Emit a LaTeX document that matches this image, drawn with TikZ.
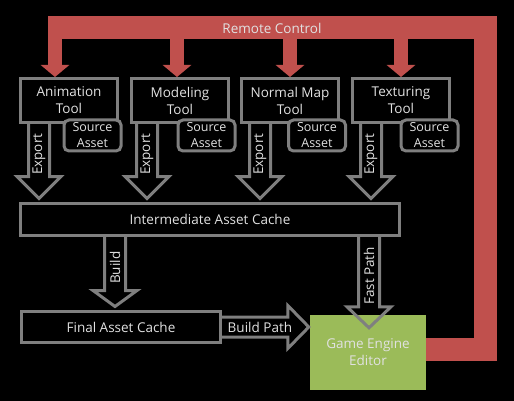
\documentclass[tikz,border=0pt]{standalone}
\usepackage{fontspec}
\setmainfont{Open Sans}
\usepackage{xcolor}
\usepackage{tikz}
\usetikzlibrary{arrows.meta}
\usetikzlibrary{calc}

\definecolor{boxgray}{RGB}{127,127,127}
\definecolor{ctrlred}{RGB}{192,80,77}
\definecolor{editgreen}{RGB}{155,187,89}
\definecolor{txt}{RGB}{225,225,225}

\newcommand{\blockdown}[4]{%
  \draw[blockarrow] let \p1=#1, \p2=#2 in
    (\x1-10.5pt,\y1) -- (\x1-10.5pt,\y2+#3) -- (\x1-22pt,\y2+#3) -- (\x1,\y2)
    -- (\x1+22pt,\y2+#3) -- (\x1+10.5pt,\y2+#3) -- (\x1+10.5pt,\y1)
    node[arrowlabel,rotate=90] at (\x1,{(\y1+\y2+#3)/2-4pt}) {#4};}
\newcommand{\blockright}[4]{%
  \draw[blockarrow] let \p1=#1, \p2=#2 in
    (\x1,\y1+10pt) -- (\x2-#3,\y1+10pt) -- (\x2-#3,\y1+21.5pt) -- (\x2,\y1)
    -- (\x2-#3,\y1-21.5pt) -- (\x2-#3,\y1-10pt) -- (\x1,\y1-10pt)
    node[arrowlabel] at ({(\x1+\x2-#3)/2+5pt},\y1) {#4};}

\begin{document}
\begin{tikzpicture}[x=1pt,y=-1pt,
    tool/.style={draw=boxgray,line width=3pt,fill=black,text=txt,align=center,
      minimum width=97pt,minimum height=44pt,inner sep=0pt,
      font=\fontsize{13.5}{17}\selectfont},
    srcbox/.style={draw=boxgray,line width=3pt,fill=black,text=txt,align=center,
      rounded corners=5pt,minimum width=57pt,minimum height=31pt,inner sep=0pt,
      font=\fontsize{12.5}{16}\selectfont},
    cache/.style={draw=boxgray,line width=3pt,fill=black,text=txt,inner sep=0pt,
      font=\fontsize{13.5}{17}\selectfont},
    editor/.style={fill=editgreen,text=txt,align=center,inner sep=0pt,
      minimum width=116pt,minimum height=75pt,font=\fontsize{13.5}{17}\selectfont},
    blockarrow/.style={draw=boxgray,line width=3pt,line join=miter},
    arrowlabel/.style={text=txt,inner sep=0pt,font=\fontsize{13.5}{17}\selectfont},
    remote/.style={draw=ctrlred,line width=23pt,line join=miter},
    remotetip/.style={draw=ctrlred,line width=14pt,-{Triangle[width=28pt,length=12pt]}}]
  \fill[black] (0,0) rectangle (514,401);

  \node[tool] (anim) at (69,100.5) {Animation\\Tool};
  \node[tool] (model) at (180,100.5) {Modeling\\Tool};
  \node[tool] (normal) at (290,100.5) {Normal Map\\Tool};
  \node[tool] (textur) at (401,100.5) {Texturing\\Tool};

  \node[srcbox] (animsrc) at (92.5,135.5) {Source\\Asset};
  \node[srcbox] (modelsrc) at (206.5,135.5) {Source\\Asset};
  \node[srcbox] (normalsrc) at (317,135.5) {Source\\Asset};
  \node[srcbox] (textursrc) at (429.5,135.5) {Source\\Asset};

  \node[cache,minimum width=379pt,minimum height=32pt] (inter) at (210,219.5) {Intermediate Asset Cache};
  \node[cache,minimum width=199pt,minimum height=31pt] (final) at (121,327) {Final Asset Cache};
  \node[editor] (editor) at (368,352.5) {Game Engine\\Editor};

  \blockdown{([xshift=-30pt]anim.south)}{([yshift=3.5pt]inter.north)}{22pt}{Export}
  \blockdown{([xshift=-33pt]model.south)}{([yshift=3.5pt]inter.north)}{22pt}{Export}
  \blockdown{([xshift=-30pt]normal.south)}{([yshift=3.5pt]inter.north)}{22pt}{Export}
  \blockdown{([xshift=-30pt]textur.south)}{([yshift=3.5pt]inter.north)}{22pt}{Export}
  \blockdown{([xshift=-95pt]inter.south)}{([yshift=3.5pt]final.north)}{16pt}{Build}
  \blockdown{([xshift=159pt]inter.south)}{([yshift=-13pt]editor.north)}{21pt}{Fast Path}
  \blockright{(final.east)}{([xshift=-1pt]editor.west)}{21pt}{Build Path}

  \draw[remote] ([yshift=3pt]editor.east) -| (485,27.5) -- (48,27.5);
  \coordinate (r1) at (55,28);
  \coordinate (r2) at (177,28);
  \coordinate (r3) at (290,28);
  \coordinate (r4) at (401,28);
  \draw[remotetip] (r1) -- (r1 |- anim.north);
  \draw[remotetip] (r2) -- (r2 |- model.north);
  \draw[remotetip] (r3) -- (r3 |- normal.north);
  \draw[remotetip] (r4) -- (r4 |- textur.north);
  \node[arrowlabel] (ctrl) at (272,28) {Remote Control};
\end{tikzpicture}
\end{document}
